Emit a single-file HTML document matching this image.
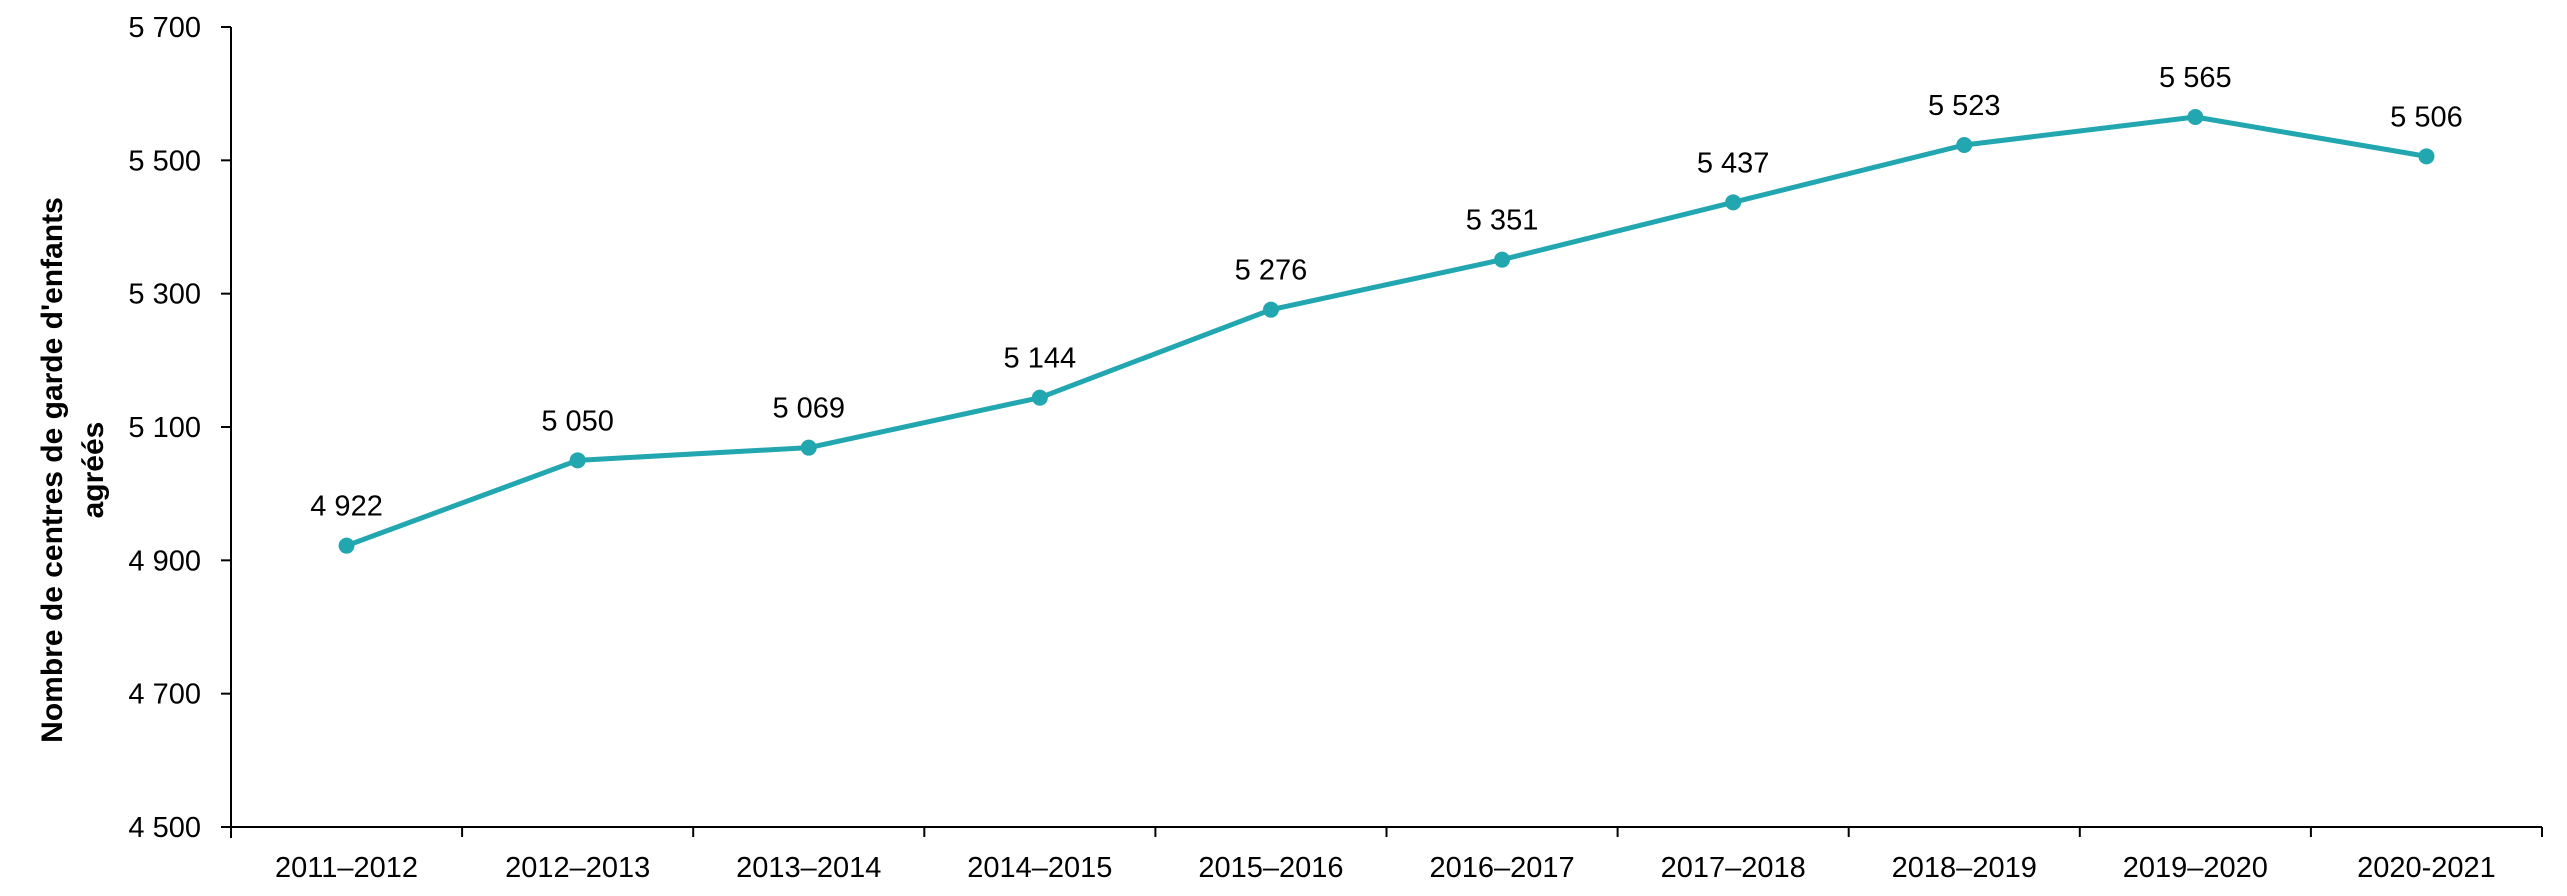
<!DOCTYPE html>
<html><head><meta charset="utf-8"><style>
html,body{margin:0;padding:0;background:#fff;}
svg{display:block;font-family:"Liberation Sans",sans-serif;}
</style></head><body>
<svg id="chart" width="2567" height="896" viewBox="0 0 2567 896" xmlns="http://www.w3.org/2000/svg">
<g id="axes"></g>
<g id="series"></g>
<text transform="translate(62,470) rotate(-90)" text-anchor="middle" font-size="30" font-weight="bold" fill="#000">Nombre de centres de garde d'enfants</text>
<text transform="translate(103,470) rotate(-90)" text-anchor="middle" font-size="30" font-weight="bold" fill="#000">agréés</text>
</svg>
<script>
const categories = ["2011–2012","2012–2013","2013–2014","2014–2015","2015–2016","2016–2017","2017–2018","2018–2019","2019–2020","2020-2021"];
const values = [4922,5050,5069,5144,5276,5351,5437,5523,5565,5506];
const yTicks = [4500,4700,4900,5100,5300,5500,5700];
const valueLabels = ["4 922","5 050","5 069","5 144","5 276","5 351","5 437","5 523","5 565","5 506"];

const NS="http://www.w3.org/2000/svg";
const X0=231, X1=2542, Y0=827, Y1=27, YMIN=4500, YMAX=5700;
const bw=(X1-X0)/categories.length;
function xPos(i){return X0+bw*(i+0.5);}
function yPos(v){return Y0-(v-YMIN)/(YMAX-YMIN)*(Y0-Y1);}
function fmt(v){const s=String(v);return s.length>3?s.slice(0,s.length-3)+" "+s.slice(-3):s;}
function mk(tag,attrs,parent){const e=document.createElementNS(NS,tag);for(const k in attrs)e.setAttribute(k,attrs[k]);parent.appendChild(e);return e;}
const axes=document.getElementById("axes"), series=document.getElementById("series");

let yl=mk("line",{x1:X0,y1:Y1,x2:X0,y2:Y0+11,stroke:"#000","stroke-width":2},axes);


let xl=mk("line",{x1:X0,y1:Y0,x2:X1,y2:Y0,stroke:"#000","stroke-width":2},axes);



yTicks.forEach(t=>{
  const y=yPos(t);
  const tk=mk("line",{x1:X0-10,y1:y,x2:X0,y2:y,stroke:"#000","stroke-width":2},axes);
  
  
  const tx=mk("text",{x:X0-30,y:y+10,"text-anchor":"end","font-size":29,fill:"#000"},axes);
  tx.textContent=fmt(t);
  
  
});
for(let i=0;i<=categories.length;i++){
  const x=X0+bw*i;
  const tk=mk("line",{x1:x,y1:Y0,x2:x,y2:Y0+10,stroke:"#000","stroke-width":2},axes);
  
  
}
categories.forEach((c,i)=>{
  const tx=mk("text",{x:xPos(i),y:877,"text-anchor":"middle","font-size":29,fill:"#000"},axes);
  tx.textContent=c;
  
  
});

const pts=values.map((v,i)=>xPos(i)+","+yPos(v)).join(" ");
const pl=mk("polyline",{points:pts,fill:"none",stroke:"#22A6B0","stroke-width":5,"stroke-linejoin":"round"},series);


values.forEach((v,i)=>{
  const c=mk("circle",{cx:xPos(i),cy:yPos(v),r:8,fill:"#22A6B0"},series);
  
  
  const t=mk("text",{x:xPos(i),y:yPos(v)-30,"text-anchor":"middle","font-size":29,fill:"#000"},series);
  t.textContent=valueLabels[i];
  
  
});
</script>
</body></html>
